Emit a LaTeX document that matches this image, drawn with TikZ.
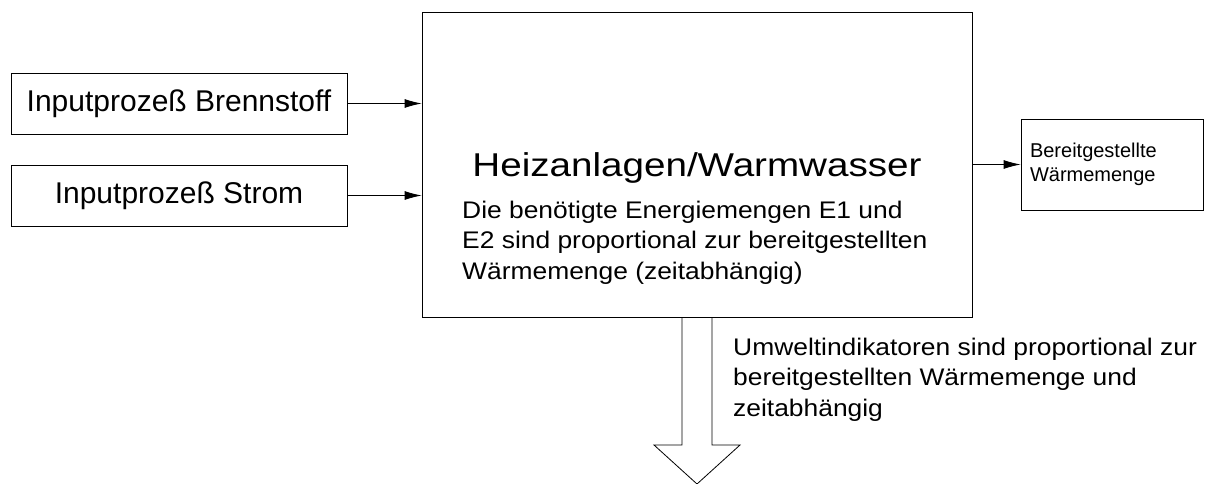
\documentclass[tikz,border=0pt]{standalone}
\usepackage{fontspec}
\setmainfont{Liberation Sans}
\newfontfamily\titelfont[FakeStretch=1.17]{Liberation Sans}
\newfontfamily\notizfont[FakeStretch=1.1]{Liberation Sans}
\usepackage{tikz}
\usetikzlibrary{arrows.meta}
\tikzstyle{process}=[
        draw,
        line width=0.8pt,
        inner sep=0pt
]
\tikzstyle{flow}=[
        line width=0.8pt,
        -{Latex[length=17pt,width=9pt]}
]
\tikzstyle{notiz}=[
        anchor=base west,
        inner sep=0pt,
        align=left,
        font=\notizfont\fontsize{24}{30.5}\selectfont
]

\begin{document}
\begin{tikzpicture}[x=1pt,y=-1pt]
                        \useasboundingbox (0,0) rectangle (1207,484);

                        \node[process, minimum width=550pt, minimum height=305pt] (anlage) at (697,164.5) {};
                        \node[process, minimum width=336pt, minimum height=61pt, font=\fontsize{30}{34}\selectfont] (brennstoff) at (179,103.5) {Inputprozeß Brennstoff};
                        \node[process, minimum width=336pt, minimum height=61pt, font=\fontsize{30}{34}\selectfont] (strom) at (179,195.5) {Inputprozeß Strom};
                        \node[process, minimum width=182pt, minimum height=91pt, text width=164pt, align=left, font=\fontsize{20}{24.4}\selectfont] (waerme) at (1112,164.5) {Bereitgestellte\\Wärmemenge};

                        \node[anchor=base, inner sep=0pt, font=\titelfont\fontsize{33}{40}\selectfont] (titel) at (697,176) {Heizanlagen/Warmwasser};
                        \node[notiz] (energie) at (462,279) {Die benötigte Energiemengen E1 und\\E2 sind proportional zur bereitgestellten\\Wärmemenge (zeitabhängig)};
                        \node[notiz] (umwelt) at (733,416) {Umweltindikatoren sind proportional zur\\bereitgestellten Wärmemenge und\\zeitabhängig};

                        \draw[flow] (brennstoff.east) -- (anlage.west |- brennstoff.east);
                        \draw[flow] (strom.east) -- (anlage.west |- strom.east);
                        \draw[flow] (anlage.east |- waerme.west) -- (waerme.west);

                        % hohler Pfeil nach unten
                        \draw[line width=0.8pt] (682,317) -- (682,445) -- (654,445) -- (697,484) -- (740,445) -- (712,445) -- (712,317);
                    \end{tikzpicture}
\end{document}
